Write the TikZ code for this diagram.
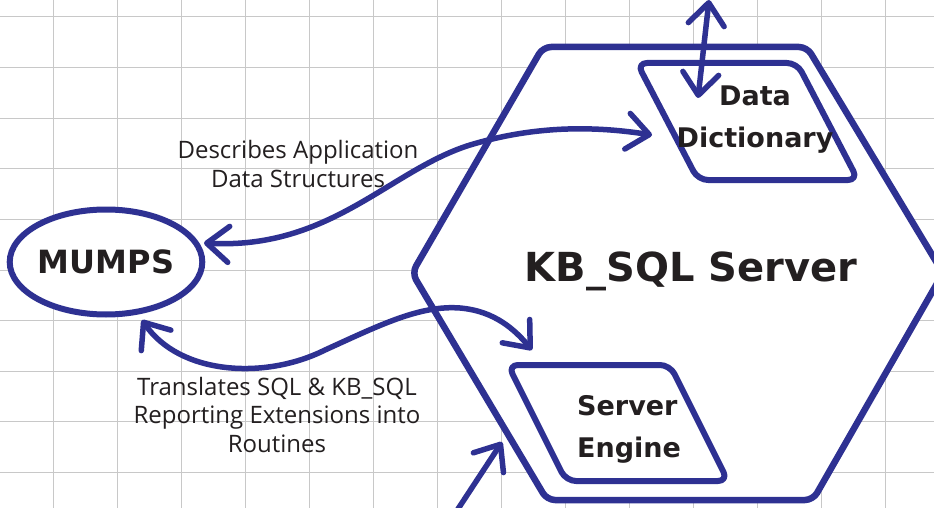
\documentclass[tikz,border=0pt]{standalone}
\usepackage{fontspec}
\setmainfont{Open Sans}
\newfontfamily\headfont{DejaVu Sans}
\usetikzlibrary{arrows.meta,shapes.geometric}
\definecolor{kbblue}{HTML}{2E3192}
\definecolor{gridgray}{HTML}{C8C8C8}
\definecolor{ink}{HTML}{231F20}
\begin{document}
\begin{tikzpicture}[x=1pt,y=-1pt,
  gridline/.style={draw=gridgray, line width=1pt},
  outline/.style={draw=kbblue, line width=6.5pt, line join=round, fill=white, rounded corners=8pt},
  subbox/.style={draw=kbblue, line width=6pt, line join=round, fill=white, rounded corners=10pt},
  barb/.tip={Straight Barb[length=22pt,width=36pt,line cap=round,line join=round]},
  link/.style={draw=kbblue, line width=5.5pt, line cap=round},
  lbl/.style={text=ink, font=\fontsize{24}{28.5}\selectfont, align=center, inner sep=0pt},
  head/.style={text=ink, font=\headfont\bfseries\fontsize{27}{42}\selectfont, inner sep=0pt}
]
\useasboundingbox (0,0) rectangle (934,508);
\fill[white] (0,0) rectangle (934,508);
% grid
\foreach \gx in {0,...,13} \draw[gridline] ({53+64*\gx},0) -- ({53+64*\gx},508);
\foreach \gy in {0,...,9} \draw[gridline] (0,{17+50.6*\gy}) -- (934,{17+50.6*\gy});
% KB_SQL Server hexagon
\draw[outline] (543,47) -- (807,47) -- (943,273) -- (813,500) -- (547,500) -- (412,273) -- cycle;
\node[head, font=\headfont\bfseries\fontsize{40}{44}\selectfont, anchor=base] (server) at (691,281) {KB\_SQL Server};
% Data Dictionary
\draw[subbox] (637,63) -- (797,63) -- (858,180) -- (698,180) -- cycle;
\node[head, align=center, anchor=base] (dd) at (755,147) {Data\\Dictionary};
% Server Engine
\draw[subbox] (508,365) -- (670,365) -- (728,481) -- (566,481) -- cycle;
\node[head, align=left, anchor=base west] (se) at (577,457) {Server\\Engine};
% MUMPS
\node[ellipse, draw=kbblue, line width=6pt, fill=white, minimum width=190pt, minimum height=105pt, inner sep=0pt, text=ink, font=\headfont\bfseries\fontsize{32}{36}\selectfont] (mumps) at (106,262) {MUMPS};
% connector end points
\coordinate (m1) at (204,243);
\coordinate (d1) at (652,135);
\coordinate (m2) at (142,320);
\coordinate (s2) at (532,350);
\coordinate (d3) at (698,98);
\coordinate (t3) at (709,0);
\coordinate (b4) at (456,512);
\coordinate (s4) at (502,442);
% connectors
\draw[link, barb-barb] (m1) .. controls (330,250) and (390,170) .. (470,145) .. controls (540,124) and (600,127) .. (d1);
\draw[link, barb-barb] (m2) .. controls (180,375) and (265,380) .. (325,350) .. controls (380,325) and (420,305) .. (460,308) .. controls (495,311) and (515,330) .. (s2);
\draw[link, barb-barb] (d3) -- (t3);
\draw[link, -barb] (b4) -- (s4);
% labels
\node[lbl, anchor=base] (descr) at (298,187) {Describes Application\\Data Structures};
\node[lbl, anchor=base] (trans) at (277,452) {Translates SQL \& KB\_SQL\\Reporting Extensions into\\Routines};
\end{tikzpicture}
\end{document}
